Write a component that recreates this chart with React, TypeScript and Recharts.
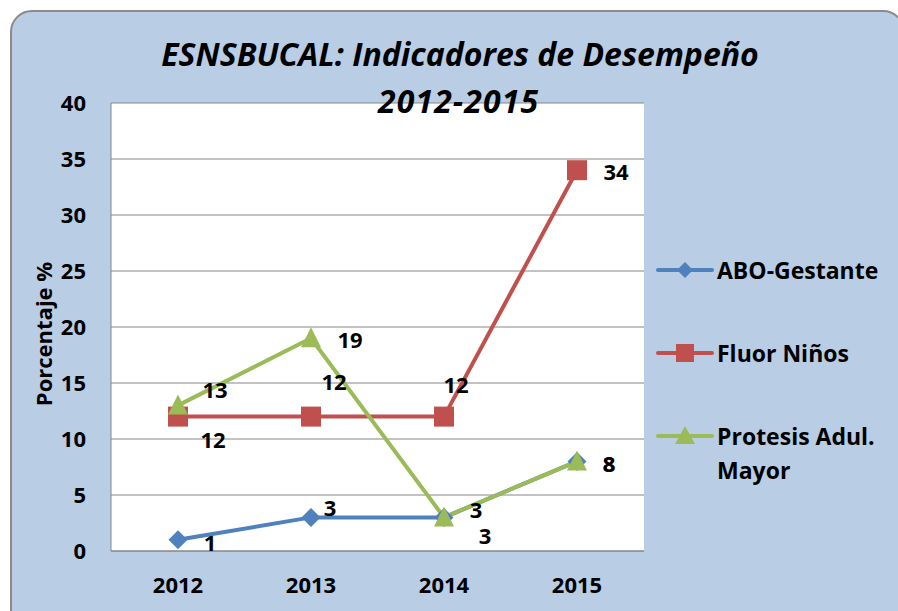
import React from 'react';
import { LineChart, Line, XAxis, YAxis, CartesianGrid, Legend, LabelList } from 'recharts';

const years = ['2012', '2013', '2014', '2015'];
const aboGestante = [1, 3, 3, 8];
const fluorNinos = [12, 12, 12, 34];
const protesisAdulMayor = [13, 19, 3, 8];
const yTicks = [0, 5, 10, 15, 20, 25, 30, 35, 40];
const seriesNames = ['ABO-Gestante', 'Fluor Niños', 'Protesis Adul. Mayor'];
const titleLines = ['ESNSBUCAL: Indicadores de Desempeño', '2012-2015'];
const yLabel = 'Porcentaje %';

const data = years.map((year, i) => ({
  year,
  abo: aboGestante[i],
  fluor: fluorNinos[i],
  protesis: protesisAdulMayor[i],
}));

const FONT = '"Open Sans", "Liberation Sans", sans-serif';
const BLUE = '#4F81BD';
const RED = '#C0504D';
const GREEN = '#9BBB59';
const GRID = '#868686';

// label offsets (style only): [dx, dy] of label centre relative to point
const aboLabelOffsets = [[32, 2], [19, -10], [32, -8], [32, 2]];
const fluorLabelOffsets = [[35, 22], [23, -36], [12, -33], [39, 1]];
const protesisLabelOffsets = [[37, -16], [39, 1], [41, 18], [32, 2]];

const makeLabel = (offsets: number[][]) => (props: any) => {
  const { x, y, value, index } = props;
  const off = offsets[index] || [0, 0];
  return (
    <text
      key={`lbl-${index}`}
      x={x + off[0]}
      y={y + off[1]}
      textAnchor="middle"
      dominantBaseline="central"
      fontFamily={FONT}
      fontWeight="bold"
      fontSize={22}
      fill="#000"
    >
      {value}
    </text>
  );
};

const diamondPath = (cx: number, cy: number, r: number) =>
  `M${cx},${cy - r} L${cx + r},${cy} L${cx},${cy + r} L${cx - r},${cy} Z`;
const trianglePath = (cx: number, cy: number) =>
  `M${cx},${cy - 11} L${cx + 10},${cy + 9} L${cx - 10},${cy + 9} Z`;

const DiamondDot = (props: any) => {
  const { cx, cy, index } = props;
  return <path key={`d-${index}`} d={diamondPath(cx, cy, 9.5)} fill={BLUE} />;
};
const SquareDot = (props: any) => {
  const { cx, cy, index } = props;
  return <rect key={`s-${index}`} x={cx - 10} y={cy - 10} width={20} height={20} fill={RED} />;
};
const TriangleDot = (props: any) => {
  const { cx, cy, index } = props;
  return <path key={`t-${index}`} d={trianglePath(cx, cy)} fill={GREEN} />;
};

const legendIcon = (color: string, idx: number) => {
  const cx = 30;
  const cy = 17;
  let marker: React.ReactNode = null;
  if (idx === 0) marker = <path d={diamondPath(cx, cy, 8)} fill={color} />;
  else if (idx === 1) marker = <rect x={cx - 9} y={cy - 9} width={18} height={18} fill={color} />;
  else marker = <path d={`M${cx},${cy - 10} L${cx + 10},${cy + 8} L${cx - 10},${cy + 8} Z`} fill={color} />;
  return (
    <svg width={60} height={34} style={{ flex: 'none' }}>
      <line x1={3} y1={cy} x2={57} y2={cy} stroke={color} strokeWidth={4} strokeLinecap="round" />
      {marker}
    </svg>
  );
};

const renderLegend = (props: any) => {
  const payload = props.payload || [];
  return (
    <div style={{ fontFamily: FONT, fontWeight: 'bold', fontSize: 23, color: '#000' }}>
      {payload.map((entry: any, i: number) => (
        <div
          key={`leg-${i}`}
          style={{ display: 'flex', alignItems: 'flex-start', marginTop: i === 0 ? 0 : 49, lineHeight: '34px' }}
        >
          {legendIcon(entry.color, i)}
          <div style={{ width: 172, marginLeft: 2 }}>{entry.value}</div>
        </div>
      ))}
    </div>
  );
};

export default function App() {
  return (
    <div style={{ position: 'absolute', left: 0, top: 0, width: 898, height: 611, overflow: 'hidden' }}>
      <div
        style={{
          position: 'absolute',
          left: 10,
          top: 10,
          width: 895,
          height: 640,
          boxSizing: 'border-box',
          border: '2px solid #8a8a8a',
          borderRadius: 22,
          background: '#B9CDE5',
        }}
      />
      <div style={{ position: 'absolute', left: 0, top: 0 }}>
        <LineChart
          width={898}
          height={611}
          data={data}
          margin={{ top: 103, right: 254, bottom: 30, left: 51 }}
        >
          <CartesianGrid vertical={false} stroke={GRID} fill="#ffffff" />
          <XAxis
            dataKey="year"
            padding={{ left: 67, right: 67 }}
            tickLine={false}
            axisLine={{ stroke: GRID }}
            tickMargin={20}
            height={30}
            tick={{ fill: '#000', fontSize: 22, fontWeight: 'bold', fontFamily: FONT }}
          />
          <YAxis
            type="number"
            domain={[0, 40]}
            ticks={yTicks}
            interval={0}
            width={60}
            tickLine={false}
            axisLine={{ stroke: GRID }}
            tickMargin={19}
            tick={{ fill: '#000', fontSize: 22, fontWeight: 'bold', fontFamily: FONT }}
          />
          <Legend
            layout="vertical"
            align="center"
            verticalAlign="middle"
            width={240}
            content={renderLegend}
            wrapperStyle={{ left: 655, top: 253, width: 240 }}
          />
          <Line
            type="linear"
            dataKey="abo"
            name={seriesNames[0]}
            stroke={BLUE}
            strokeWidth={4}
            dot={DiamondDot}
            activeDot={false}
            isAnimationActive={false}
          >
            <LabelList dataKey="abo" content={makeLabel(aboLabelOffsets)} />
          </Line>
          <Line
            type="linear"
            dataKey="fluor"
            name={seriesNames[1]}
            stroke={RED}
            strokeWidth={4}
            dot={SquareDot}
            activeDot={false}
            isAnimationActive={false}
          >
            <LabelList dataKey="fluor" content={makeLabel(fluorLabelOffsets)} />
          </Line>
          <Line
            type="linear"
            dataKey="protesis"
            name={seriesNames[2]}
            stroke={GREEN}
            strokeWidth={4}
            dot={TriangleDot}
            activeDot={false}
            isAnimationActive={false}
          >
            <LabelList dataKey="protesis" content={makeLabel(protesisLabelOffsets)} />
          </Line>
        </LineChart>
      </div>
      <svg
        width={898}
        height={611}
        style={{ position: 'absolute', left: 0, top: 0, pointerEvents: 'none' }}
      >
        <text
          x={460}
          y={66}
          textAnchor="middle"
          fontFamily={FONT}
          fontWeight="bold"
          fontStyle="italic"
          fontSize={32}
          fill="#000"
        >
          {titleLines[0]}
        </text>
        <text
          x={458}
          y={113}
          textAnchor="middle"
          fontFamily={FONT}
          fontWeight="bold"
          fontStyle="italic"
          fontSize={32}
          textLength={160}
          fill="#000"
        >
          {titleLines[1]}
        </text>
        <text
          transform="translate(43,334) rotate(-90)"
          textAnchor="middle"
          dominantBaseline="central"
          fontFamily={FONT}
          fontWeight="bold"
          fontSize={22}
          fill="#000"
        >
          {yLabel}
        </text>
      </svg>
    </div>
  );
}
